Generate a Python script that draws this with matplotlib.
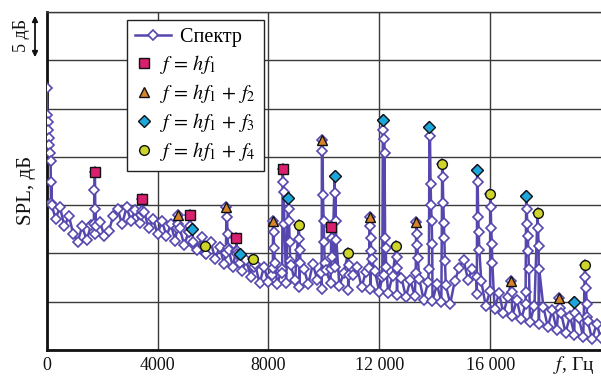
import numpy as np
import matplotlib
matplotlib.use("Agg")
import matplotlib.pyplot as plt
from matplotlib.legend_handler import HandlerLine2D

plt.rcParams['font.family'] = ['Liberation Serif', 'DejaVu Serif']
plt.rcParams['mathtext.fontset'] = 'stix'

# baseline of the spectrum, dB, every 160 Hz starting at 160 Hz
base_db = [15.2, 13.6, 14.8, 12.8, 13.9, 12.0, 11.2, 12.8, 11.4, 12.9,
           12.0, 13.3, 11.8, 12.3, 13.9, 14.6, 13.0, 14.8, 13.4, 14.5,
           13.2, 14.3, 12.6, 13.6, 12.0, 13.4, 11.8, 13.0, 11.3, 12.6,
           10.9, 12.2, 11.0, 10.4, 11.7, 9.9, 11.2, 9.4, 10.7, 8.9,
           10.4, 8.6, 9.9, 8.2, 9.3, 7.6, 8.9, 6.9, 8.6, 7.0,
           8.5, 6.8, 8.4, 6.9, 8.8, 7.2, 6.5, 8.4, 6.8, 8.9,
           7.3, 6.3, 8.3, 6.9, 8.6, 6.6, 8.0, 6.2, 7.8, 8.6,
           6.5, 8.1, 6.3, 8.2, 6.0, 7.8, 5.9, 7.7, 5.7, 7.5,
           5.5, 7.2, 5.6, 7.4, 5.2, 7.0, 5.1, 6.8, 5.0, 6.7,
           4.8, 7.1, 8.5, 9.3, 7.3, 8.4, 5.8, 7.1, 4.6, 6.1,
           4.2, 5.9, 3.8, 5.5, 3.5, 5.2, 3.2, 4.8, 2.9, 4.6,
           2.7, 4.5, 2.4, 4.1, 2.1, 3.8, 1.8, 3.5, 1.6, 3.3,
           1.3, 3.0, 1.1, 2.7, 1.2]

# narrow peaks of the spectrum: centre frequency and the stacked levels (dB)
spike_f = [0, 1740, 3423, 4720, 5164, 5260, 5705, 6486, 6847, 6965, 7445,
           8166, 8515, 8705, 9095, 9930, 10270, 10390, 10870, 11650, 12130,
           12610, 13335, 13810, 14270, 15530, 16000, 16756, 17300, 17710,
           18497, 19040, 19420]
spike_levels = [
    [27.1, 24.3, 23.6, 22.8, 22.0, 21.2, 20.4, 19.6, 17.4, 15.0],
    [13.0, 16.6, 18.4, 14.6, 12.8],
    [14.0, 15.6, 14.4],
    [12.6, 14.0, 13.0],
    [12.2, 14.0, 12.8],
    [12.5, 11.2],
    [10.8, 10.0],
    [10.0, 14.8, 13.8, 12.0, 10.6],
    [10.3, 11.6, 10.2],
    [9.9, 9.0],
    [9.4, 8.6],
    [7.8, 13.4, 12.2, 10.6, 9.0],
    [8.0, 18.7, 17.4, 16.4, 13.0],
    [15.7, 14.6, 13.4, 11.2, 9.2],
    [12.9, 11.5, 10.4, 9.0],
    [8.0, 21.7, 20.6, 16.0, 13.4, 11.2, 9.0],
    [8.4, 12.7, 11.6, 9.6],
    [18.05, 16.3, 13.4, 11.4],
    [10.0, 8.8, 7.8],
    [8.5, 13.8, 12.8, 11.6, 10.2, 9.4],
    [7.6, 23.8, 22.8, 21.8, 20.4, 11.6, 10.6, 8.6],
    [10.8, 9.6, 8.5],
    [8.0, 13.3, 12.0, 10.9, 9.5],
    [8.4, 23.1, 22.2, 17.2, 15.0, 13.4, 11.0],
    [19.3, 17.9, 15.2, 13.2, 11.6, 9.2],
    [7.6, 18.6, 17.4, 13.8, 12.2, 10.4],
    [16.2, 14.8, 12.6, 11.0, 9.0],
    [7.1, 6.0],
    [6.0, 15.9, 14.6, 13.0, 11.8, 10.2, 8.4],
    [14.2, 12.6, 10.8, 8.4],
    [5.35, 4.4],
    [5.0, 3.8],
    [8.8, 7.6, 6.4, 4.8, 3.4],
]

# marked components
h1_f = [1740, 3423, 5164, 6847, 8515, 10270]
h1_db = [18.4, 15.6, 14.0, 11.6, 18.7, 12.7]
h2_f = [4720, 6486, 8166, 9930, 11650, 13335, 16756, 18497]
h2_db = [14.0, 14.8, 13.4, 21.7, 13.8, 13.3, 7.1, 5.35]
h3_f = [5260, 6965, 8705, 10390, 12130, 13810, 15530, 17300, 19040]
h3_db = [12.5, 9.9, 15.7, 18.05, 23.8, 23.1, 18.6, 15.9, 5.0]
h4_f = [5705, 7445, 9095, 10870, 12610, 14270, 16000, 17710, 19420]
h4_db = [10.8, 9.4, 12.9, 10.0, 10.8, 19.3, 16.2, 14.2, 8.8]

xticks = [0, 4000, 8000, 12000, 16000]
xtick_labels = ['0', '4000', '8000', '12 000', '16 000']


class WideLine(HandlerLine2D):
    # longer line handle for the spectrum entry
    def create_artists(self, legend, orig_handle, xdescent, ydescent,
                       width, height, fontsize, trans):
        return super().create_artists(legend, orig_handle, xdescent, ydescent,
                                       width * 2.0, height, fontsize, trans)


# assemble spectrum points
spec_f = list(160 * (1 + np.arange(len(base_db))))
spec_db = list(base_db)
for fc, lv in zip(spike_f, spike_levels):
    offs = (np.arange(len(lv)) - int(np.argmax(lv))) * 20
    spec_f += list(fc + offs)
    spec_db += lv
order = np.argsort(spec_f, kind='stable')
spec_f = np.array(spec_f, dtype=float)[order]
spec_db = np.array(spec_db)[order]

purple = '#5547ae'
grid_c = '#3a3a3a'

fig = plt.figure(figsize=(6.01, 3.78), dpi=100)
ax = fig.add_axes([46.7 / 601, 28 / 378, 554.3 / 601, 338 / 378])

spec_line, = ax.plot(spec_f, spec_db, '-', color=purple, lw=1.8, marker='D',
                     ms=5.5, mfc='white', mec=purple, mew=1.2,
                     label='    Спектр', zorder=3)
ax.plot(h1_f, h1_db, 's', ls='none', ms=7, color='#d8206f', mec='#111',
        mew=1, label=r'$f\,=\,hf_1$', zorder=4)
ax.plot(h2_f, h2_db, '^', ls='none', ms=7, color='#d7842c', mec='#111',
        mew=1, label=r'$f\,=\,hf_1\,+\,f_2$', zorder=4)
ax.plot(h3_f, h3_db, 'D', ls='none', ms=6.5, color='#1ca6dc', mec='#111',
        mew=1, label=r'$f\,=\,hf_1\,+\,f_3$', zorder=4)
ax.plot(h4_f, h4_db, 'o', ls='none', ms=7, color='#cdd52b', mec='#111',
        mew=1, label=r'$f\,=\,hf_1\,+\,f_4$', zorder=4)

ax.set_xlim(0, 20000)
ax.set_ylim(0, 35)
ax.set_xticks(xticks)
ax.set_xticklabels(xtick_labels)
ax.set_yticks(range(0, 36, 5))
ax.set_yticklabels([])
ax.tick_params(length=0, pad=5, labelsize=13, colors='#111')
ax.grid(True, color=grid_c, lw=1)
ax.set_axisbelow(True)

ax.spines['right'].set_visible(False)
ax.spines['top'].set_linewidth(1)
ax.spines['top'].set_color(grid_c)
for s in ['left', 'bottom']:
    ax.spines[s].set_linewidth(2)
    ax.spines[s].set_color('#111')

leg = ax.legend(loc='upper left', bbox_to_anchor=(0.1447, 0.976),
                borderaxespad=0, fontsize=14.5, handlelength=0.9,
                handletextpad=0.35, labelspacing=0.3, fancybox=False,
                framealpha=1, edgecolor='#222', borderpad=0.4,
                handler_map={spec_line: WideLine()})
leg.get_frame().set_linewidth(1)
leg.set_zorder(5)

fig.text(27 / 601, 1 - 190 / 378, 'SPL, дБ', rotation=90, ha='center',
         va='center', fontsize=15, color='#111')
fig.text(22 / 601, 1 - 36 / 378, '5 дБ', rotation=90, ha='center',
         va='center', fontsize=13, color='#111')
fig.add_artist(matplotlib.patches.FancyArrowPatch(
    (35 / 601, 1 - 13 / 378), (35 / 601, 1 - 60 / 378),
    transform=fig.transFigure, arrowstyle='<|-|>', mutation_scale=8,
    color='#111', lw=1.3))
fig.text(553 / 601, 1 - 365 / 378, r'$f$, Гц', ha='left', va='center',
         fontsize=14, color='#111')

fig.savefig('out.png', dpi=100)
